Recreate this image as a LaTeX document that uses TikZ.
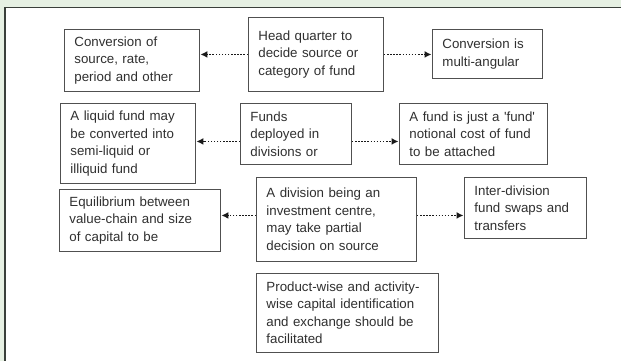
\documentclass[tikz,border=0pt]{standalone}
\usepackage{fontspec}
\setmainfont{Liberation Sans}
\usetikzlibrary{arrows.meta}
\definecolor{bggreen}{HTML}{E6F0E3}
\definecolor{frame}{HTML}{3A3F3A}
\definecolor{boxline}{HTML}{505050}
\definecolor{txt}{HTML}{303030}
\tikzset{
  box/.style={draw=boxline, line width=0.9pt, fill=white, anchor=north west,
    inner xsep=10pt, inner ysep=0pt, align=left, text=txt,
    font=\fontsize{13.3}{17.5}\selectfont},
  link/.style={line width=1.8pt, dash pattern=on 1.5pt off 1.6pt, draw=black!90,
    -{Latex[length=7pt,width=7pt]}, shorten >=0.5pt}
}
\newcommand{\mybox}[7]{% name, x, y, w, h, text
  \node[box, minimum width=#4pt, minimum height=#5pt, text width=#6pt] (#1) at (#2,#3) {#7};}
\begin{document}
\begin{tikzpicture}[x=1pt,y=-1pt]
\useasboundingbox (0,0) rectangle (621,361);
\fill[bggreen] (0,0) rectangle (621,361);
\fill[white] (5,7) rectangle (621,361);
\draw[frame, line width=1.6pt] (5,361) -- (5,7.5) -- (621,7.5);

\mybox{hq}{248}{17}{135}{74}{115}{Head quarter to\\decide source or\\category of fund}
\mybox{conv}{64}{29}{135}{62}{115}{Conversion of\\source, rate,\\period and other}
\mybox{multi}{432}{29}{110}{49}{90}{Conversion is\\multi-angular}
\mybox{liq}{60}{103}{135}{80}{115}{A liquid fund may\\be converted into\\semi-liquid or\\illiquid fund}
\mybox{funds}{240}{103}{111}{61}{91}{Funds\\deployed in\\divisions or}
\mybox{fundjust}{399}{103}{148}{61}{128}{A fund is just a \textquotesingle fund\textquotesingle\\notional cost of fund\\to be attached}
\mybox{eq}{59}{189}{161}{62}{141}{Equilibrium between\\value-chain and size\\of capital to be}
\mybox{div}{256}{177}{160}{84}{140}{A division being an\\investment centre,\\may take partial\\decision on source}
\mybox{inter}{464}{177}{122}{61}{102}{Inter-division\\fund swaps and\\transfers}
\mybox{prod}{256}{273}{182}{79}{162}{Product-wise and activity-\\wise capital identification\\and exchange should be\\facilitated}

\draw[link] (hq.west) -- (hq.west -| conv.east);
\draw[link] (hq.east) -- (hq.east -| multi.west);
\draw[link] ([yshift=-7.5pt]funds.west) -- ([yshift=-7.5pt]funds.west -| liq.east);
\draw[link] ([yshift=-7.5pt]funds.east) -- ([yshift=-7.5pt]funds.east -| fundjust.west);
\draw[link] ([yshift=4pt]div.west) -- ([yshift=4pt]div.west -| eq.east);
\draw[link] ([yshift=4pt]div.east) -- ([yshift=4pt]div.east -| inter.west);
\end{tikzpicture}
\end{document}
